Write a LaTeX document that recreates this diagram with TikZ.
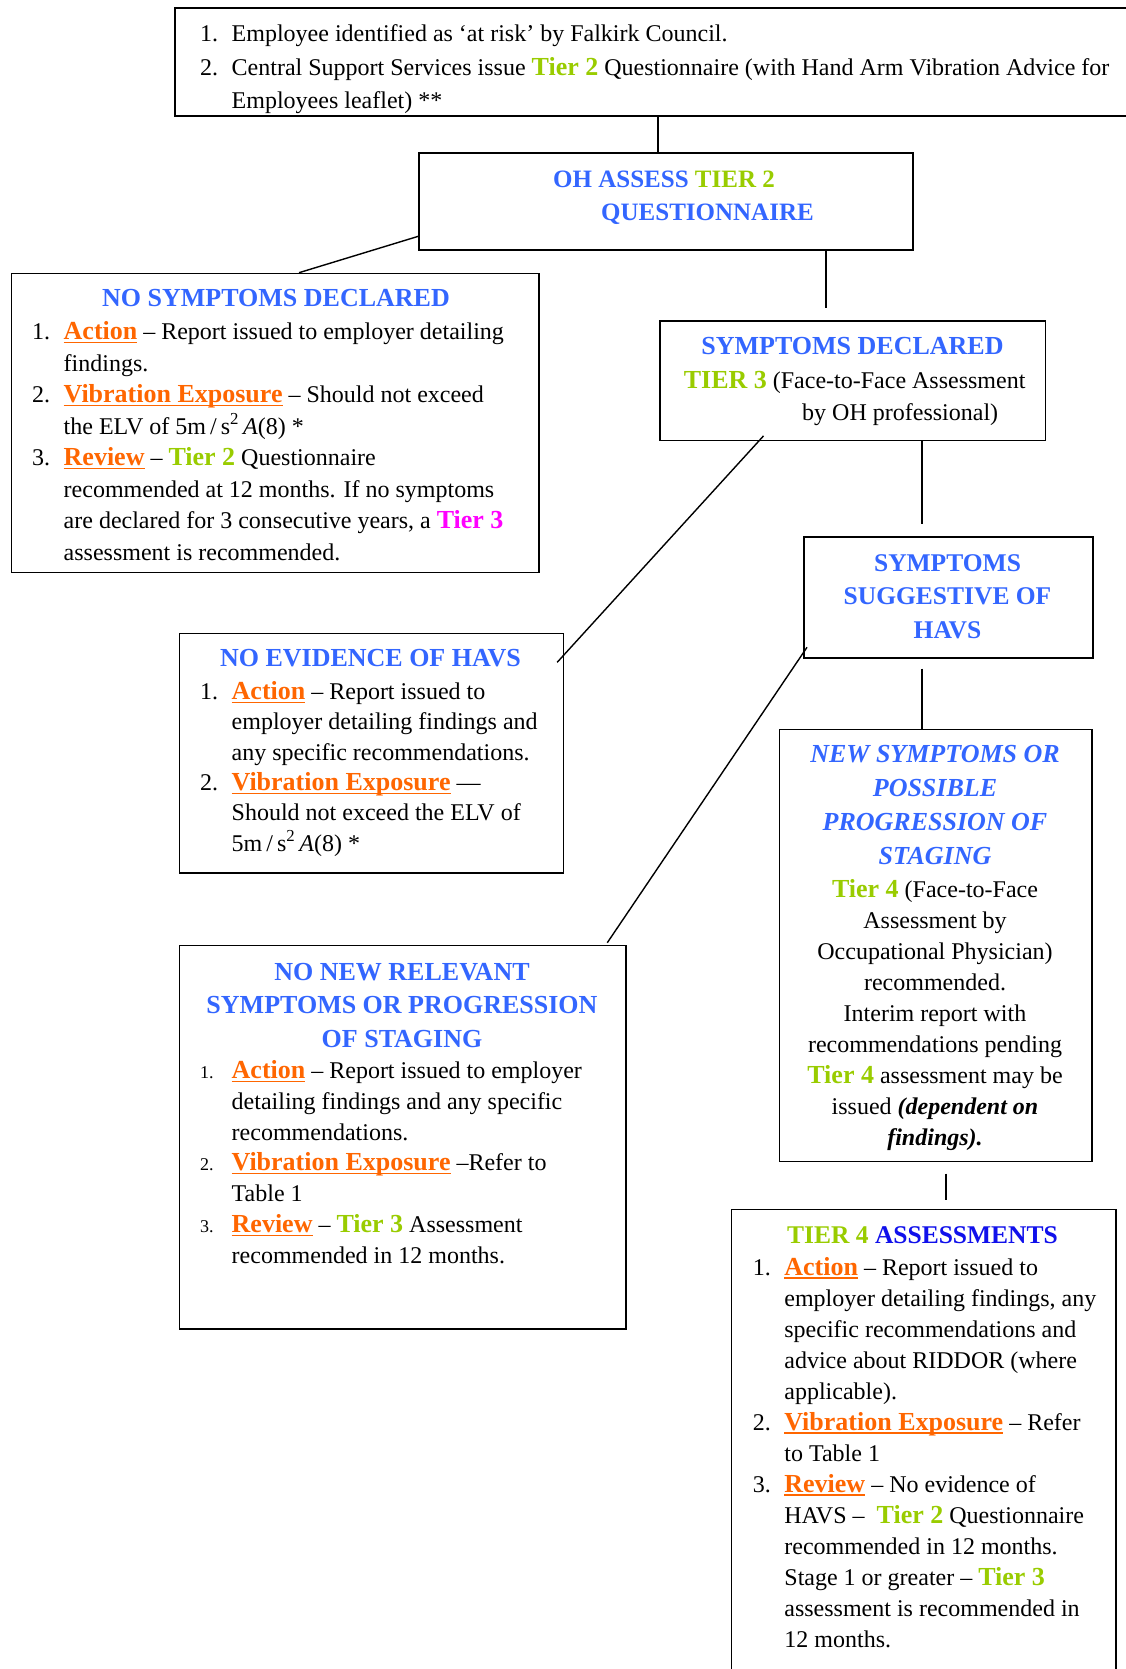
\documentclass[tikz,border=0pt]{standalone}
\usepackage{fontspec}
\setmainfont{Liberation Serif}
\usetikzlibrary{calc}
\definecolor{hblue}{RGB}{51,102,255}
\definecolor{tgreen}{RGB}{153,204,0}
\definecolor{orng}{RGB}{255,102,0}
\definecolor{mag}{RGB}{255,0,255}
\definecolor{dblue}{RGB}{16,16,235}
\newcommand\bodyfont[1]{\fontsize{24}{#1}\selectfont}
\newcommand\lab[1]{{\color{orng}\fontsize{26}{26}\selectfont\bfseries\setbox0=\hbox{#1}\rlap{\rule[-3.6pt]{\wd0}{1.5pt}}\box0}}
\newcommand\tgr[1]{{\color{tgreen}\fontsize{26}{26}\selectfont\bfseries #1}}
\newcommand\tmg[1]{{\color{mag}\fontsize{26}{26}\selectfont\bfseries #1}}
\newcommand\itm[1]{\makebox[31.5pt][l]{#1}}
\newcommand\cnt{\hspace*{31.5pt}}
\newcommand\smn[1]{{\fontsize{18}{18}\selectfont #1}}
\tikzset{
  box/.style={draw, line width=1.6pt, inner sep=0, anchor=north west},
  conn/.style={draw, line width=1.4pt},
  txt/.style={inner sep=0, anchor=north west, align=left},
  hd/.style={inner sep=0, text=hblue, font=\fontsize{26}{33.7}\selectfont\bfseries},
}
\begin{document}
\begin{tikzpicture}[x=1pt,y=-1pt]
\fill[white] (0,0) rectangle (1126,1669);
\useasboundingbox (0,0) rectangle (1126,1669);

% ---------- boxes ----------
\node[box, minimum width=1000pt, minimum height=108pt] (top) at (174,7) {};
\node[box, minimum width=494pt, minimum height=97pt] (ohbox) at (418,152) {};
\node[box, minimum width=527.6pt, minimum height=299pt] (nosym) at (10.6,272.7) {};
\node[box, minimum width=385.5pt, minimum height=119pt] (sd) at (659,320.5) {};
\node[box, minimum width=289pt, minimum height=121pt] (sug) at (803,536) {};
\node[box, minimum width=384pt, minimum height=239.3pt] (noev) at (178.5,632.7) {};
\node[box, minimum width=446.5pt, minimum height=383.5pt] (nonew) at (178.5,944.5) {};
\node[box, minimum width=312.5pt, minimum height=432pt] (new) at (778.5,728.5) {};
\node[box, minimum width=384.5pt, minimum height=600pt] (t4) at (730.5,1208.5) {};

% ---------- top box text ----------
\begin{scope}
\clip (174,7) rectangle (1174,115);
\node[txt, font=\bodyfont{33.5}] (toptxt) at (200,18.35)
 {\strut\itm{1.}Employee identified as ‘at risk’ by Falkirk Council.\\
  \itm{2.}Central Support Services issue \tgr{Tier 2} Questionnaire (with Hand Arm Vibration Advice for\\
  \cnt Employees leaflet) **};
\end{scope}

% ---------- OH assess ----------
\node[hd, anchor=base west, font=\fontsize{25}{30}\selectfont\bfseries] (oh1) at (553,188) {OH ASSESS \textcolor{tgreen}{TIER 2}};
\node[hd, anchor=base west, font=\fontsize{25}{30}\selectfont\bfseries] (oh2) at (601,220.7) {QUESTIONNAIRE};

% ---------- no symptoms ----------
\node[hd, anchor=base] (nshd) at (276,306.7) {NO SYMPTOMS DECLARED};
\node[txt, font=\bodyfont{31.5}] (nstxt) at (32,317.25)
 {\strut\itm{1.}\lab{Action} – Report issued to employer detailing\\
  \cnt findings.\\
  \itm{2.}\lab{Vibration Exposure} – Should not exceed\\
  \cnt the ELV of 5m\,/\,s\textsuperscript{2}\,\textit{A}(8) *\\
  \itm{3.}\lab{Review} – \tgr{Tier 2} Questionnaire\\
  \cnt recommended at 12 months. If no symptoms\\
  \cnt are declared for 3 consecutive years, a \tmg{Tier 3}\\
  \cnt assessment is recommended.};

% ---------- symptoms declared ----------
\node[hd, anchor=base] (sdhd) at (852.5,354.3) {SYMPTOMS DECLARED};
\node[inner sep=0, anchor=base west, font=\bodyfont{31}] (sdl2) at (683.6,388.3) {\tgr{TIER 3} (Face-to-Face Assessment};
\node[inner sep=0, anchor=base west, font=\bodyfont{31}] (sdl3) at (802,420) {by OH professional)};

% ---------- suggestive ----------
\node[hd, align=center, anchor=north, font=\fontsize{25.5}{33.5}\selectfont\bfseries] (sugtxt) at (947.5,547.55)
 {\strut SYMPTOMS\\ SUGGESTIVE OF\\ HAVS};

% ---------- no evidence ----------
\node[hd, anchor=base] (nehd) at (370.4,666.7) {NO EVIDENCE OF HAVS};
\node[txt, font=\bodyfont{30.3}] (netxt) at (200,678.1)
 {\strut\itm{1.}\lab{Action} – Report issued to\\
  \cnt employer detailing findings and\\
  \cnt any specific recommendations.\\
  \itm{2.}\lab{Vibration Exposure} —\\
  \cnt Should not exceed the ELV of\\
  \cnt 5m\,/\,s\textsuperscript{2}\,\textit{A}(8) *};

% ---------- no new relevant ----------
\node[hd, align=center, anchor=north] (nnhd) at (402,956.4)
 {\strut NO NEW RELEVANT\\ SYMPTOMS OR PROGRESSION\\ OF STAGING};
\node[txt, font=\bodyfont{30.8}] (nntxt) at (200,1056.7)
 {\strut\itm{\smn{1.}}\lab{Action} – Report issued to employer\\
  \cnt detailing findings and any specific\\
  \cnt recommendations.\\
  \itm{\smn{2.}}\lab{Vibration Exposure} –Refer to\\
  \cnt Table 1\\
  \itm{\smn{3.}}\lab{Review} – \tgr{Tier 3} Assessment\\
  \cnt recommended in 12 months.};

% ---------- new symptoms ----------
\node[hd, align=center, anchor=north, font=\fontsize{26}{33.8}\selectfont\bfseries\itshape] (nwhd) at (935,739)
 {\strut NEW SYMPTOMS OR\\ POSSIBLE\\ PROGRESSION OF\\ STAGING};
\node[inner sep=0, align=center, anchor=north, font=\bodyfont{31}] (nwtxt) at (935,876)
 {\strut\tgr{Tier 4} (Face-to-Face\\
  Assessment by\\
  Occupational Physician)\\
  recommended.\\
  Interim report with\\
  recommendations pending\\
  \tgr{Tier 4} assessment may be\\
  issued \textbf{\textit{(dependent on}}\\
  \textbf{\textit{findings).}}};

% ---------- tier 4 ----------
\node[inner sep=0, anchor=base, font=\fontsize{25.5}{30}\selectfont\bfseries] (t4hd) at (922.5,1243.3)
 {\textcolor{tgreen}{TIER 4} \textcolor{dblue}{ASSESSMENTS}};
\node[txt, font=\bodyfont{31}] (t4txt) at (752.7,1253.3)
 {\strut\itm{1.}\lab{Action} – Report issued to\\
  \cnt employer detailing findings, any\\
  \cnt specific recommendations and\\
  \cnt advice about RIDDOR (where\\
  \cnt applicable).\\
  \itm{2.}\lab{Vibration Exposure} – Refer\\
  \cnt to Table 1\\
  \itm{3.}\lab{Review} – No evidence of\\
  \cnt HAVS –\ \ \tgr{Tier 2} Questionnaire\\
  \cnt recommended in 12 months.\\
  \cnt Stage 1 or greater – \tgr{Tier 3}\\
  \cnt assessment is recommended in\\
  \cnt 12 months.};

% ---------- connectors ----------
\coordinate (x658) at (658,0);
\coordinate (x826) at (826,0);
\coordinate (x922) at (922,0);
\coordinate (x946) at (946,0);
\draw[conn] (top.south -| x658) -- (ohbox.north -| x658);
\draw[conn] ($(ohbox.north west)!0.856!(ohbox.south west)$) -- ($(nosym.north west)!0.545!(nosym.north east)$);
\draw[conn, shorten >=12pt] (ohbox.south -| x826) -- (sd.north -| x826);
\draw[conn] ($(sd.south west)+(104.5,-5.2)$) -- ($(noev.north east)+(-6.9,29.6)$);
\draw[conn, shorten >=12pt] (sd.south -| x922) -- (sug.north -| x922);
\draw[conn] ($(sug.south west)+(4,-11.3)$) -- ($(nonew.north west)+(428.8,-1.8)$);
\draw[conn, shorten <=10pt] (sug.south -| x922) -- (new.north -| x922);
\draw[conn, shorten <=11.5pt, shorten >=8.5pt] (new.south -| x946) -- (t4.north -| x946);
\end{tikzpicture}
\end{document}
